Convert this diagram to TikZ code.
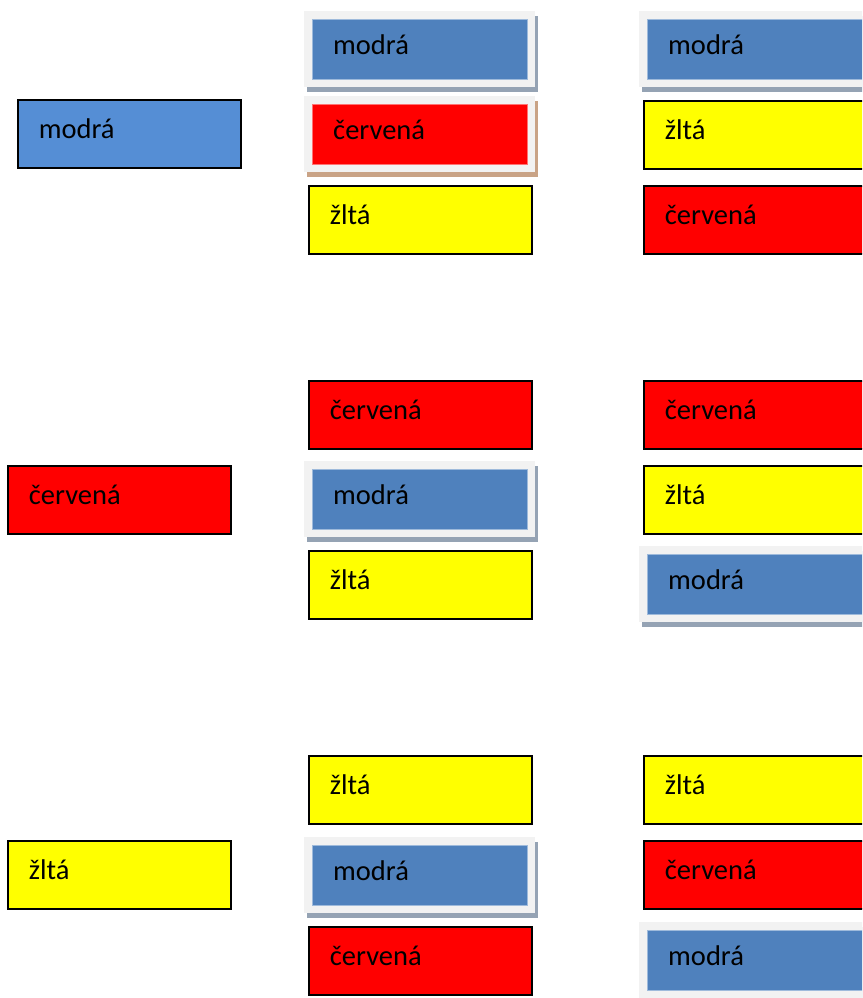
\documentclass[tikz,border=0pt]{standalone}
\usepackage{fontspec}
\setmainfont{Carlito}
\usetikzlibrary{shadows}

\definecolor{modra}{HTML}{4F81BD}
\definecolor{modrasvetla}{HTML}{558ED5}
\definecolor{cervena}{HTML}{FF0000}
\definecolor{zlta}{HTML}{FFFF00}
\definecolor{ramik}{HTML}{F2F2F2}
\definecolor{tienmodry}{HTML}{95A3B4}
\definecolor{tienhnedy}{HTML}{C9A386}

\tikzset{
  lbl/.style={font=\fontsize{28.5}{30}\selectfont, align=left,
    text height=20pt, text depth=10pt, rectangle},
  plainbox/.style={lbl, anchor=north west, draw=black, line width=1.6pt,
    minimum height=68pt, inner xsep=21pt, text width=181pt},
  framebox/.style={anchor=north west, fill=ramik, minimum width=231pt,
    minimum height=76pt, inner sep=0pt,
    drop shadow={shadow xshift=3pt, shadow yshift=-5pt, opacity=1, fill=#1}},
  innerbox/.style={lbl, anchor=center, minimum height=60pt,
    inner xsep=21pt, text width=173pt, line width=0.6pt},
}

% plain box: name, x, y (top left, y downward), fill, text
\newcommand\plainat[5]{\node[plainbox, fill=#4] (#1) at (#2,#3) {#5};}
% framed box with shadow: name, x, y (slot top left), fill, shadow colour, text
\newcommand\framedat[6]{%
  \node[framebox=#5] (#1f) at (#2-4,#3-4) {};
  \node[innerbox, fill=#4, draw=#4!55!white] (#1) at (#1f.center) {#6};}

\begin{document}
\begin{tikzpicture}[x=1pt, y=-1pt]
\clip (0,0) rectangle (862,998);
\fill[white] (0,0) rectangle (862,998);

% starting colours
\plainat{s1}{17}{99}{modrasvetla}{modrá}
\plainat{s2}{7}{465}{cervena}{červená}
\plainat{s3}{7}{840}{zlta}{žltá}

% first group
\framedat{a1}{308}{15}{modra}{tienmodry}{modrá}
\framedat{a2}{308}{100}{cervena}{tienhnedy}{červená}
\plainat{a3}{308}{185}{zlta}{žltá}
\framedat{b1}{643}{15}{modra}{tienmodry}{modrá}
\plainat{b2}{643}{100}{zlta}{žltá}
\plainat{b3}{643}{185}{cervena}{červená}

% second group
\plainat{c1}{308}{380}{cervena}{červená}
\framedat{c2}{308}{465}{modra}{tienmodry}{modrá}
\plainat{c3}{308}{550}{zlta}{žltá}
\plainat{d1}{643}{380}{cervena}{červená}
\plainat{d2}{643}{465}{zlta}{žltá}
\framedat{d3}{643}{550}{modra}{tienmodry}{modrá}

% third group
\plainat{e1}{308}{755}{zlta}{žltá}
\framedat{e2}{308}{841}{modra}{tienmodry}{modrá}
\plainat{e3}{308}{926}{cervena}{červená}
\plainat{f1}{643}{755}{zlta}{žltá}
\plainat{f2}{643}{840}{cervena}{červená}
\framedat{f3}{643}{926}{modra}{tienmodry}{modrá}
\end{tikzpicture}
\end{document}
